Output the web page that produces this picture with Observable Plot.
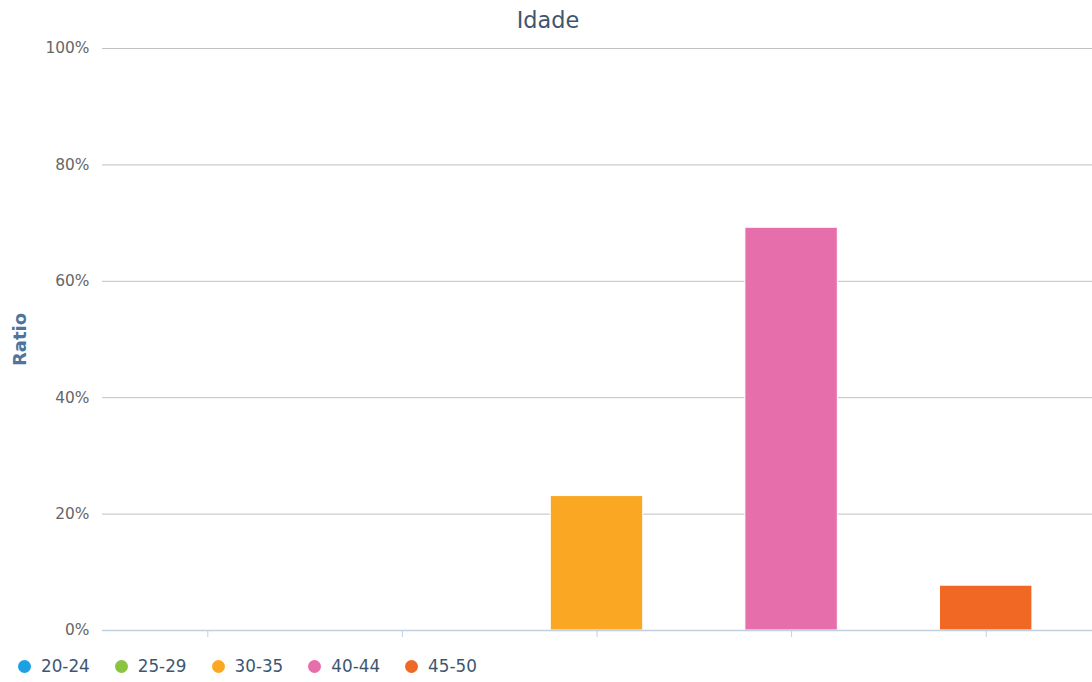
<!DOCTYPE html>
<html>
<head>
<meta charset="utf-8">
<script src="https://cdn.jsdelivr.net/npm/d3@7"></script>
<script src="https://cdn.jsdelivr.net/npm/@observablehq/plot@0.6"></script>
<style>
  html, body { margin: 0; padding: 0; background: #fff; }
  body { width: 1092px; font-family: "DejaVu Sans", Verdana, sans-serif; }
  #title {
    height: 36px; line-height: 41px; text-align: center;
    font-size: 22.4px; color: #3e576f; padding-left: 4px; box-sizing: border-box;
  }
  #chart svg { display: block; }
  #legend {
    display: flex; align-items: center; height: 36px;
    padding-left: 18px; gap: 25px; font-size: 16.8px; color: #3e576f;
  }
  .item { display: flex; align-items: center; }
  .dot { width: 13px; height: 13px; border-radius: 50%; margin-right: 10px; }
</style>
</head>
<body>
<div id="title">Idade</div>
<div id="chart"></div>
<div id="legend"></div>
<script>
// Age groups and the share of respondents in each (percent)
const ageGroups = ["20-24", "25-29", "30-35", "40-44", "45-50"];
const shares = [0, 0, 23.1, 69.2, 7.7];
const groupColors = ["#1ba1e2", "#8bc43f", "#faa824", "#e66fab", "#f06824"];
const yTicks = [0, 20, 40, 60, 80, 100];

const rows = ageGroups.map((group, i) => ({ group, share: shares[i], color: groupColors[i] }));

const chart = Plot.plot({
  width: 1092,
  height: 612,
  marginTop: 12,
  marginBottom: 18,
  marginLeft: 102,
  marginRight: 0,
  style: { fontFamily: "DejaVu Sans, Verdana, sans-serif", background: "#fff" },
  x: {
    domain: ageGroups,
    range: [110, 1083],
    paddingInner: 0.525,
    paddingOuter: 0.2625,
    round: false,
    axis: null,
    label: null
  },
  y: { domain: [0, 100], axis: null, label: null },
  marks: [
    Plot.gridY(yTicks, { stroke: "#c0c0c0", strokeOpacity: 1 }),
    Plot.axisY(yTicks, {
      label: null,
      tickSize: 0,
      tickPadding: 13,
      tickFormat: d => d + "%",
      fontSize: 15.4,
      fill: "#666"
    }),
    Plot.barY(rows.filter(d => d.share > 0), {
      x: "group",
      y: "share",
      fill: "color",
      stroke: "#fff",
      strokeWidth: 1
    }),
    Plot.ruleY([0], { stroke: "#c0d0e0", strokeWidth: 1.5 }),
    Plot.axisX(ageGroups, {
      label: null,
      tickSize: 7,
      tickFormat: () => "",
      stroke: "#c0d0e0"
    }),
    Plot.text(["Ratio"], {
      frameAnchor: "left",
      textAnchor: "middle",
      dx: -82,
      rotate: -90,
      fontSize: 18,
      fontWeight: "bold",
      fill: "#4d759e"
    })
  ]
});
document.getElementById("chart").appendChild(chart);

// Legend: one coloured dot per age group
const legend = document.getElementById("legend");
rows.forEach(d => {
  const item = document.createElement("div");
  item.className = "item";
  const dot = document.createElement("span");
  dot.className = "dot";
  dot.style.background = d.color;
  const label = document.createElement("span");
  label.textContent = d.group;
  item.append(dot, label);
  legend.appendChild(item);
});
</script>
</body>
</html>
